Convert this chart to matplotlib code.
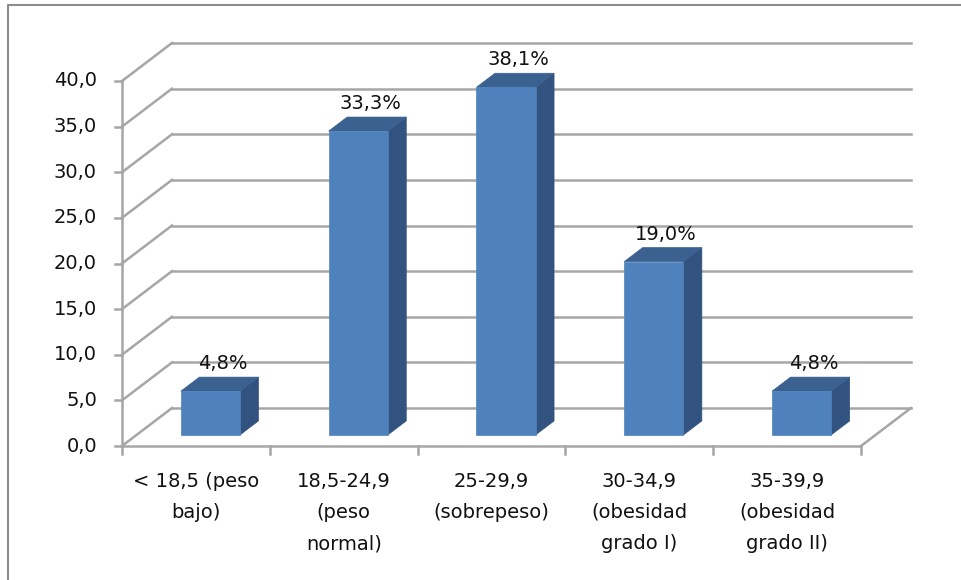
import matplotlib.pyplot as plt
from matplotlib.patches import Polygon
from matplotlib.transforms import IdentityTransform

categories = ['< 18,5 (peso\nbajo)', '18,5-24,9\n(peso\nnormal)', '25-29,9\n(sobrepeso)',
              '30-34,9\n(obesidad\ngrado I)', '35-39,9\n(obesidad\ngrado II)']
values = [4.8, 33.3, 38.1, 19.0, 4.8]
yticks = [0, 5, 10, 15, 20, 25, 30, 35, 40]

W, H = 961, 580
fig = plt.figure(figsize=(W / 100, H / 100), dpi=100)
ax = fig.add_axes([122 / W, (H - 446) / H, (861 - 122) / W, (446 - 81) / H])
ax.set_xlim(0, len(categories))
ax.set_ylim(0, 40)
ax.axis('off')

# depth of the floor in pixels (x, y upward)
DX, DY = 50, 38
grid_c = '#a6a6a6'
txt_c = '#111111'
ident = IdentityTransform()


def proj(x, v, d):
    px, py = ax.transData.transform((x, v))
    return px + d * DX, py + d * DY


def seg(p, q, **kw):
    ax.add_line(plt.Line2D([p[0], q[0]], [p[1], q[1]], transform=ident,
                           color=grid_c, lw=1.8, clip_on=False, **kw))


fig.canvas.draw()
n = len(categories)

# back wall and side wall gridlines
for v in yticks:
    seg(proj(0, v, 1), proj(n, v, 1), zorder=1)
    seg(proj(0, v, 0), proj(0, v, 1), zorder=1)
# floor
seg(proj(0, 0, 0), proj(n, 0, 0), zorder=5)
seg(proj(n, 0, 0), proj(n, 0, 1), zorder=1)
# value axis
seg(proj(0, 0, 0), proj(0, 40, 0), zorder=5)

# ticks
for v in yticks:
    x, y = proj(0, v, 0)
    seg((x - 7, y), (x, y), zorder=5)
    ax.text(x - 25, y, f'{v:.1f}'.replace('.', ','), transform=ident,
            ha='right', va='center', fontsize=14, color=txt_c)
for i in range(n + 1):
    x, y = proj(i, 0, 0)
    seg((x, y), (x, y - 8), zorder=5)

# bars
front_c, side_c, top_c = '#4f81bd', '#325380', '#3b6190'
d0, d1 = 0.29, 0.66
for i, v in enumerate(values):
    x0, x1 = i + 0.3, i + 0.7
    front = [proj(x0, 0, d0), proj(x1, 0, d0), proj(x1, v, d0), proj(x0, v, d0)]
    side = [proj(x1, 0, d0), proj(x1, 0, d1), proj(x1, v, d1), proj(x1, v, d0)]
    top = [proj(x0, v, d0), proj(x1, v, d0), proj(x1, v, d1), proj(x0, v, d1)]
    for pts, c in ((side, side_c), (top, top_c), (front, front_c)):
        ax.add_patch(Polygon(pts, closed=True, transform=ident, facecolor=c,
                             edgecolor=c, lw=0.5, zorder=3, clip_on=False))
    lx, ly = proj(i + 0.5, v, (d0 + d1) / 2)
    ax.text(lx + 3, ly + 15, f'{v:.1f}%'.replace('.', ','), transform=ident,
            ha='center', va='baseline', fontsize=14, color=txt_c, zorder=6)

# category labels
for i, lab in enumerate(categories):
    x, y = proj(i + 0.5, 0, 0)
    ax.text(x, y - 26, lab, transform=ident, ha='center', va='top',
            fontsize=14, color=txt_c, linespacing=1.8)

# outer chart border
fig.add_artist(plt.Line2D([8 / W, 8 / W, 1.0], [0, (H - 5) / H, (H - 5) / H],
                          transform=fig.transFigure, color='#8c8c8c', lw=1.5))

fig.savefig('out.png', dpi=100)
